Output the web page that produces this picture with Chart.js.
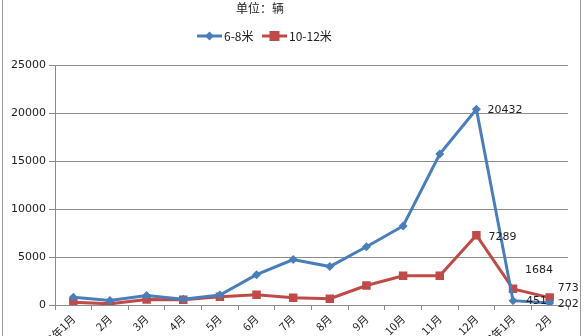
<!DOCTYPE html>
<html>
<head>
<meta charset="utf-8">
<script src="https://cdn.jsdelivr.net/npm/chart.js@4/dist/chart.umd.min.js"></script>
<style>
  html, body { margin: 0; padding: 0; background: #fff; overflow: hidden; }
  #wrap { position: relative; width: 585px; height: 336px; overflow: hidden; }
  #frame { position: absolute; left: 2px; top: -4px; width: 577px; height: 350px; border: 1px solid #9a9a9a; }
  #chart { position: absolute; left: 0; top: 0; }
</style>
</head>
<body>
<div id="wrap">
  <div id="frame"></div>
  <canvas id="chart" width="585" height="336"></canvas>
</div>
<script>
(function () {
  "use strict";

  // ── Data ──
  const categories = [
    "2012年1月", "2月", "3月", "4月", "5月", "6月", "7月",
    "8月", "9月", "10月", "11月", "12月", "2013年1月", "2月"
  ];
  const seriesNames = ["6-8米", "10-12米"];
  const values68   = [800, 460, 1000, 600, 1050, 3170, 4750, 4010, 6080, 8250, 15750, 20432, 451, 202];
  const values1012 = [290, 120, 570, 560, 850, 1070, 760, 660, 2030, 3050, 3050, 7289, 1684, 773];
  const yTicks = [0, 5000, 10000, 15000, 20000, 25000];
  const unitText = "单位：辆";

  const BLUE = "#4a7ebb";
  const RED = "#be4b48";
  const NUM_FONT = "'DejaVu Sans', sans-serif";
  const CJK_FONT = "'Noto Sans CJK SC', sans-serif";

  // which points get a value label, and where the text sits
  const pointLabels = [
    { ds: 0, idx: 11, dx: 11, dy: 1 },
    { ds: 1, idx: 11, dx: 12, dy: 2 },
    { ds: 1, idx: 12, dx: 12, dy: -19 },
    { ds: 0, idx: 12, dx: 13, dy: 0 },
    { ds: 1, idx: 13, dx: 8, dy: -9 },
    { ds: 0, idx: 13, dx: 8, dy: 1 },
  ];

  // ── Header: unit text + legend (line with marker) ──
  const headerPlugin = {
    id: "header",
    afterDraw: function (chart) {
      const ctx = chart.ctx;
      ctx.save();
      ctx.fillStyle = "#222";
      ctx.font = "12px " + CJK_FONT;
      ctx.textAlign = "center";
      ctx.textBaseline = "middle";
      ctx.fillText(unitText, 260, 8);

      const items = [
        { x: 197, color: BLUE, style: "diamond" },
        { x: 262, color: RED, style: "square" },
      ];
      items.forEach(function (it, i) {
        const y = 36;
        ctx.strokeStyle = it.color;
        ctx.lineWidth = 3;
        ctx.beginPath();
        ctx.moveTo(it.x, y);
        ctx.lineTo(it.x + 25, y);
        ctx.stroke();
        ctx.fillStyle = it.color;
        const cx = it.x + 12.5;
        if (it.style === "diamond") {
          ctx.beginPath();
          ctx.moveTo(cx, y - 4.5);
          ctx.lineTo(cx + 4.5, y);
          ctx.lineTo(cx, y + 4.5);
          ctx.lineTo(cx - 4.5, y);
          ctx.closePath();
          ctx.fill();
        } else {
          ctx.fillRect(cx - 5, y - 5, 10, 10);
        }
        ctx.fillStyle = "#222";
        ctx.font = "12px " + CJK_FONT;
        ctx.textAlign = "left";
        ctx.fillText(seriesNames[i], it.x + 27, y);
      });
      ctx.restore();
    },
  };

  // ── Value labels next to selected points ──
  const valueLabelPlugin = {
    id: "valueLabels",
    afterDatasetsDraw: function (chart) {
      const ctx = chart.ctx;
      ctx.save();
      ctx.font = "11px " + NUM_FONT;
      ctx.fillStyle = "#222";
      ctx.textAlign = "left";
      ctx.textBaseline = "middle";
      pointLabels.forEach(function (l) {
        const el = chart.getDatasetMeta(l.ds).data[l.idx];
        const v = chart.data.datasets[l.ds].data[l.idx];
        ctx.fillText(String(v), el.x + l.dx, el.y + l.dy);
      });
      ctx.restore();
    },
  };

  new Chart(document.getElementById("chart"), {
    type: "line",
    data: {
      labels: categories,
      datasets: [
        {
          label: seriesNames[0],
          data: values68,
          borderColor: BLUE,
          backgroundColor: BLUE,
          borderWidth: 3,
          pointStyle: "rectRot",
          pointRadius: 4.5,
          pointBorderWidth: 0,
          tension: 0,
        },
        {
          label: seriesNames[1],
          data: values1012,
          borderColor: RED,
          backgroundColor: RED,
          borderWidth: 3,
          pointStyle: "rect",
          pointRadius: 6,
          pointBorderWidth: 0,
          tension: 0,
        },
      ],
    },
    options: {
      responsive: false,
      animation: false,
      layout: { padding: { left: 0, right: 17, top: 65.5, bottom: 0 } },
      plugins: {
        legend: { display: false },
        title: { display: false },
        tooltip: { enabled: false },
      },
      scales: {
        x: {
          offset: true,
          afterFit: function (s) { s.height = 31; },
          grid: { display: true, offset: true, drawOnChartArea: false, tickLength: 5, color: "#8c8c8c" },
          border: { color: "#8c8c8c" },
          ticks: {
            minRotation: 45,
            maxRotation: 45,
            autoSkip: false,
            padding: 2,
            color: "#222",
            font: { family: CJK_FONT, size: 11 },
          },
        },
        y: {
          min: 0,
          max: 25000,
          afterFit: function (s) { s.width = 55; },
          afterBuildTicks: function (s) {
            s.ticks = yTicks.map(function (v) { return { value: v }; });
          },
          grid: { color: "#8c8c8c", tickLength: 6 },
          border: { color: "#8c8c8c" },
          ticks: {
            padding: 3,
            color: "#222",
            font: { family: NUM_FONT, size: 11 },
            callback: function (v) { return String(v); },
          },
        },
      },
    },
    plugins: [headerPlugin, valueLabelPlugin],
  });
})();
</script>
</body>
</html>
